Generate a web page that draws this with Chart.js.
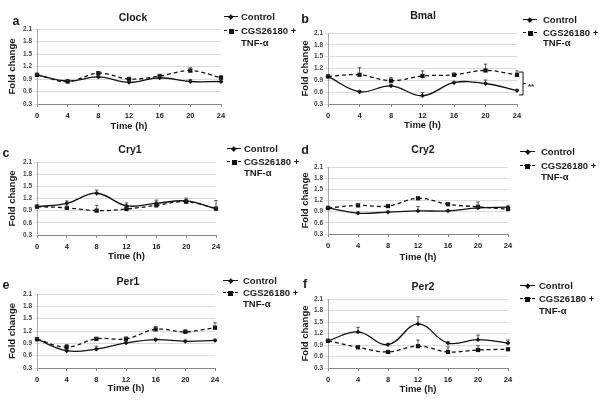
<!DOCTYPE html>
<html>
<head>
<meta charset="utf-8">
<script src="https://cdn.jsdelivr.net/npm/chart.js@4.4.1/dist/chart.umd.min.js"></script>
<style>
body{margin:0;background:#fff;}
#wrap{position:relative;width:600px;height:403px;overflow:hidden;font-family:"Liberation Sans",Arial,sans-serif;font-weight:bold;color:#1a1a1a;}
canvas{position:absolute;}
.t{position:absolute;white-space:nowrap;transform:translate(-50%,-50%);line-height:1;}
.l{position:absolute;white-space:nowrap;transform:translateY(-50%);line-height:1;font-size:9.5px;}
.s{position:absolute;height:0;}
.m{position:absolute;background:#111;}
</style>
</head>
<body>
<div id="wrap"></div>
<script>
var hours = [0, 4, 8, 12, 16, 20, 24];
var yTicks = [0.3, 0.6, 0.9, 1.2, 1.5, 1.8, 2.1];
var legendNames = ['Control', 'CGS26180 +', 'TNF-α'];

var clockCtrl = [1.0, 0.85, 0.95, 0.82, 0.93, 0.84, 0.84];
var clockCtrlErr = [0.02, 0.04, 0.04, 0.04, 0.03, 0.05, 0.04];
var clockCgs = [1.0, 0.84, 1.04, 0.9, 0.97, 1.1, 0.93];
var clockCgsErr = [0.02, 0.03, 0.03, 0.04, 0.04, 0.07, 0.05];

var bmalCtrl = [1.0, 0.61, 0.76, 0.51, 0.84, 0.82, 0.64];
var bmalCtrlErr = [0.02, 0.03, 0.04, 0.08, 0.03, 0.09, 0.02];
var bmalCgs = [1.0, 1.04, 0.89, 1.01, 1.04, 1.15, 1.04];
var bmalCgsErr = [0.02, 0.18, 0.08, 0.13, 0.04, 0.16, 0.1];

var cry1Ctrl = [1.0, 1.08, 1.33, 1.02, 1.08, 1.14, 0.95];
var cry1CtrlErr = [0.02, 0.06, 0.08, 0.07, 0.08, 0.07, 0.03];
var cry1Cgs = [1.0, 0.97, 0.9, 0.94, 1.03, 1.12, 0.95];
var cry1CgsErr = [0.02, 0.03, 0.13, 0.03, 0.08, 0.05, 0.2];

var cry2Ctrl = [1.0, 0.86, 0.89, 0.92, 0.92, 1.0, 1.02];
var cry2CtrlErr = [0.02, 0.03, 0.02, 0.12, 0.03, 0.03, 0.03];
var cry2Cgs = [1.0, 1.07, 1.05, 1.26, 1.1, 1.03, 0.97];
var cry2CgsErr = [0.02, 0.02, 0.03, 0.03, 0.03, 0.13, 0.03];

var per1Ctrl = [1.0, 0.72, 0.76, 0.91, 0.99, 0.95, 0.97];
var per1CtrlErr = [0.02, 0.03, 0.07, 0.04, 0.03, 0.03, 0.03];
var per1Cgs = [1.0, 0.81, 1.01, 1.01, 1.24, 1.18, 1.28];
var per1CgsErr = [0.02, 0.06, 0.03, 0.04, 0.07, 0.05, 0.12];

var per2Ctrl = [1.01, 1.24, 0.91, 1.45, 0.95, 1.04, 0.95];
var per2CtrlErr = [0.02, 0.12, 0.03, 0.19, 0.03, 0.12, 0.08];
var per2Cgs = [1.01, 0.84, 0.72, 0.87, 0.72, 0.77, 0.79];
var per2CgsErr = [0.02, 0.03, 0.03, 0.16, 0.13, 0.11, 0.03];

// bracket for significance in Bmal panel (y values)
var bmalBracket = [1.11, 0.53];

var wrap = document.getElementById('wrap');

// panel layout: origin, plot box, title, letter, legend
var panels = [
  {name:'Clock', letter:'a', ctrl:clockCtrl, ctrlErr:clockCtrlErr, cgs:clockCgs, cgsErr:clockCgsErr,
   ox:0, oy:0, h:135, l:37, r:221, t:29, b:104, xh:28, yw:37, ytp:7,
   tx:133, ty:17, lx:16, ly:21, lg:[17, 31, 43], sx:224, sw:14, gx:241},
  {name:'Bmal', letter:'b', ctrl:bmalCtrl, ctrlErr:bmalCtrlErr, cgs:bmalCgs, cgsErr:bmalCgsErr,
   ox:300, oy:0, h:135, l:328, r:517, t:33, b:104, xh:27, yw:28, ytp:0,
   tx:423, ty:15, lx:305, ly:19, lg:[20, 33, 43], sx:523, sw:14, gx:543, bracket:true},
  {name:'Cry1', letter:'c', ctrl:cry1Ctrl, ctrlErr:cry1CtrlErr, cgs:cry1Cgs, cgsErr:cry1CgsErr,
   ox:0, oy:135, h:135, l:37, r:216, t:162, b:235, xh:27, yw:37, ytp:7,
   tx:130, ty:149, lx:6, ly:153, lg:[149, 162, 173], sx:227, sw:14, gx:244},
  {name:'Cry2', letter:'d', ctrl:cry2Ctrl, ctrlErr:cry2CtrlErr, cgs:cry2Cgs, cgsErr:cry2CgsErr,
   ox:300, oy:135, h:135, l:328, r:508, t:167, b:234, xh:29, yw:28, ytp:0,
   tx:423, ty:149, lx:305, ly:150, lg:[152, 166, 177], sx:520, sw:15, gx:541},
  {name:'Per1', letter:'e', ctrl:per1Ctrl, ctrlErr:per1CtrlErr, cgs:per1Cgs, cgsErr:per1CgsErr,
   ox:0, oy:270, h:133, l:37, r:215, t:294, b:368, xh:26, yw:37, ytp:7,
   tx:128, ty:281, lx:6, ly:285, lg:[281, 293, 304], sx:223, sw:15, gx:243},
  {name:'Per2', letter:'f', ctrl:per2Ctrl, ctrlErr:per2CtrlErr, cgs:per2Cgs, cgsErr:per2CgsErr,
   ox:300, oy:270, h:133, l:328, r:508, t:299, b:368, xh:27, yw:28, ytp:0,
   tx:423, ty:286, lx:305, ly:284, lg:[286, 299, 311], sx:520, sw:15, gx:539}
];

var errBars = {
  id: 'errBars',
  afterDatasetsDraw: function(chart, args, opts) {
    var ctx = chart.ctx, xs = chart.scales.x, ys = chart.scales.y;
    ctx.save();
    ctx.strokeStyle = '#333';
    ctx.lineWidth = 0.8;
    opts.errs.forEach(function(pair) {
      pair.vals.forEach(function(v, i) {
        var x = xs.getPixelForValue(hours[i]);
        var y0 = ys.getPixelForValue(v);
        var y1 = ys.getPixelForValue(v + pair.err[i]);
        ctx.beginPath();
        ctx.moveTo(x, y0); ctx.lineTo(x, y1);
        ctx.moveTo(x - 1.8, y1); ctx.lineTo(x + 1.8, y1);
        ctx.stroke();
      });
    });
    if (opts.bracket) {
      var bx = chart.chartArea.right + 6;
      var b1 = ys.getPixelForValue(bmalBracket[0]);
      var b2 = ys.getPixelForValue(bmalBracket[1]);
      ctx.strokeStyle = '#111';
      ctx.lineWidth = 1;
      ctx.beginPath();
      ctx.moveTo(bx - 4, b1); ctx.lineTo(bx, b1); ctx.lineTo(bx, b2); ctx.lineTo(bx - 4, b2);
      ctx.moveTo(bx, (b1 + b2) / 2); ctx.lineTo(bx + 3, (b1 + b2) / 2);
      ctx.stroke();
    }
    ctx.restore();
  }
};

function addText(cls, txt, x, y, size) {
  var d = document.createElement('div');
  d.className = cls;
  d.textContent = txt;
  d.style.left = x + 'px';
  d.style.top = y + 'px';
  if (size) d.style.fontSize = size + 'px';
  wrap.appendChild(d);
}

function addSample(x, y, w, dashed, square) {
  var s = document.createElement('div');
  s.className = 's';
  s.style.left = x + 'px';
  s.style.top = (y - 0.6) + 'px';
  s.style.width = w + 'px';
  s.style.borderTop = '1.3px ' + (dashed ? 'dashed' : 'solid') + ' #111';
  wrap.appendChild(s);
  var m = document.createElement('div');
  m.className = 'm';
  var sz = square ? 5 : 3.6;
  m.style.width = sz + 'px';
  m.style.height = sz + 'px';
  m.style.left = (x + w / 2 - sz / 2) + 'px';
  m.style.top = (y - sz / 2) + 'px';
  if (!square) m.style.transform = 'rotate(45deg)';
  wrap.appendChild(m);
}

function makeChart(p) {
  var c = document.createElement('canvas');
  c.width = 300; c.height = p.h;
  c.style.left = p.ox + 'px'; c.style.top = p.oy + 'px';
  wrap.appendChild(c);

  new Chart(c, {
    type: 'line',
    data: {
      datasets: [
        {label: legendNames[0], data: hours.map(function(h, i) { return {x: h, y: p.ctrl[i]}; }),
         borderColor: '#111', backgroundColor: '#111', borderWidth: 1.3, tension: 0.4,
         pointStyle: 'rectRot', pointRadius: 2.4, pointBorderWidth: 0, clip: false},
        {label: legendNames[1] + ' ' + legendNames[2], data: hours.map(function(h, i) { return {x: h, y: p.cgs[i]}; }),
         borderColor: '#111', backgroundColor: '#111', borderWidth: 1.3, borderDash: [4, 3], tension: 0.4,
         pointStyle: 'rect', pointRadius: 3, pointBorderWidth: 0, clip: false}
      ]
    },
    options: {
      responsive: false,
      animation: false,
      layout: {padding: {left: p.l - p.ox - p.yw, top: p.t - p.oy, right: p.ox + 300 - p.r, bottom: p.oy + p.h - p.b - p.xh}},
      plugins: {
        legend: {display: false},
        tooltip: {enabled: false},
        errBars: {errs: [{vals: p.ctrl, err: p.ctrlErr}, {vals: p.cgs, err: p.cgsErr}], bracket: !!p.bracket}
      },
      scales: {
        x: {
          type: 'linear', min: 0, max: 24,
          afterBuildTicks: function(s) { s.ticks = hours.map(function(v) { return {value: v}; }); },
          afterFit: function(s) { s.height = p.xh; },
          grid: {drawOnChartArea: false, tickLength: 3, color: '#888'},
          border: {color: '#888'},
          ticks: {padding: 4, maxRotation: 0, color: '#1a1a1a',
                  font: {family: 'Liberation Sans', size: 7.5, weight: 'bold'}},
          title: {display: true, text: 'Time (h)', color: '#1a1a1a', padding: 0,
                  font: {family: 'Liberation Sans', size: 9.5, weight: 'bold'}}
        },
        y: {
          min: 0.3, max: 2.1,
          afterBuildTicks: function(s) { s.ticks = yTicks.map(function(v) { return {value: v}; }); },
          afterFit: function(s) { s.width = p.yw; },
          grid: {color: '#d2d2d2', tickLength: 3, lineWidth: 0.8},
          border: {color: '#aaa'},
          ticks: {padding: 2, color: '#444', callback: function(v) { return v.toFixed(1); },
                  font: {family: 'Liberation Sans', size: 6.5, weight: 'bold'}},
          title: {display: true, text: 'Fold change', color: '#1a1a1a', padding: {top: p.ytp, bottom: 0},
                  font: {family: 'Liberation Sans', size: 9.5, weight: 'bold'}}
        }
      }
    },
    plugins: [errBars]
  });

  addText('t', p.name, p.tx, p.ty, 10.5);
  addText('t', p.letter, p.lx, p.ly, 12.5);
  addSample(p.sx, p.lg[0], p.sw, false, false);
  addSample(p.sx, p.lg[1], p.sw, true, true);
  addText('l', legendNames[0], p.gx, p.lg[0]);
  addText('l', legendNames[1], p.gx, p.lg[1]);
  addText('l', legendNames[2], p.gx, p.lg[2]);
  if (p.bracket) addText('l', '**', p.r + 11, (p.t + p.b) / 2 + 18, 8);
}

panels.forEach(makeChart);
</script>
</body>
</html>
